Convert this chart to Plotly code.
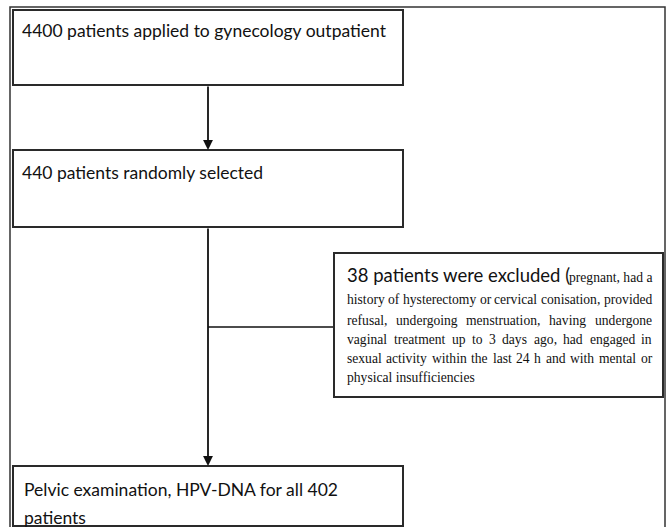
import plotly.graph_objects as go

# ---- data (flowchart content) ----
counts = [4400, 440, 38, 402]
step_labels = [
    "patients applied to gynecology outpatient",
    "patients randomly selected",
    "patients were excluded (",
    "Pelvic examination, HPV-DNA for all",
]
excl_first = "pregnant, had a"
excl_lines = [
    "history of hysterectomy or cervical conisation, provided",
    "refusal, undergoing menstruation, having undergone",
    "vaginal treatment up to 3 days ago, had engaged in",
    "sexual activity within the last 24 h and with mental or",
    "physical insufficiencies",
]
last_line = "patients"

# ---- geometry / style ----
W, H = 668, 527
SANS = "Lato"
SERIF = "Liberation Serif"
BOX = "#2a2a2a"

# Times metrics (per 1000 em) for justification
TM = dict(a=444, b=500, c=444, d=500, e=444, f=333, g=500, h=500, i=278, j=278,
          k=500, l=278, m=778, n=500, o=500, p=500, q=500, r=333, s=389, t=278,
          u=500, v=500, w=722, x=500, y=500, z=444)
TM.update({" ": 250, ",": 250, ".": 250, "(": 333, ")": 333, "-": 333})
for dch in "0123456789":
    TM[dch] = 500


def tw(s, fs):
    return sum(TM.get(c, 500) for c in s) * fs / 1000.0


fig = go.Figure()
shapes = []
ann = []


def rect(x0, y0, x1, y1, color=BOX, width=2):
    shapes.append(dict(type="rect", xref="x", yref="y", x0=x0, y0=y0, x1=x1, y1=y1,
                       line=dict(color=color, width=width), fillcolor="rgba(0,0,0,0)"))


def line(x0, y0, x1, y1, color="#111", width=2):
    shapes.append(dict(type="line", xref="x", yref="y", x0=x0, y0=y0, x1=x1, y1=y1,
                       line=dict(color=color, width=width)))


def text(x, y, s, size, family, anchor="left", color="#111"):
    ann.append(dict(x=x, y=y, xref="x", yref="y", text=s, showarrow=False,
                    xanchor=anchor, yanchor="middle", borderpad=0, borderwidth=0,
                    font=dict(size=size, family=family, color=color)))


def arrow(x, y0, y1):
    ann.append(dict(x=x, y=y1, ax=x, ay=y0, xref="x", yref="y", axref="x", ayref="y",
                    text="", showarrow=True, arrowhead=2, arrowsize=1.1,
                    arrowwidth=1.8, arrowcolor="#111", standoff=0, startstandoff=0))


# outer frame
rect(10, 7, 665, 560, color="#333", width=1.5)
# box 1
rect(13, 10, 403, 85)
text(22, 30, f"{counts[0]} {step_labels[0]}", 17.5, SANS)
# arrow 1
arrow(208, 85, 150)
# box 2
rect(13, 150, 403, 227)
text(22, 172, f"{counts[1]} {step_labels[1]}", 17.5, SANS)
# main line + arrow 2
arrow(208, 227, 466)
# branch line to exclusion box
line(208, 327, 334, 327, width=1.5)
# exclusion box
rect(334, 253, 663, 397)
L, R = 347, 652
fs = 13.6
text(L, 275, f"{counts[2]} {step_labels[2]}", 18.5, SANS)
text(R, 277, excl_first, fs, SERIF, anchor="right")
ys = [299, 320, 339, 358, 377]
for k, (ln, yy) in enumerate(zip(excl_lines, ys)):
    words = ln.split()
    if k == len(excl_lines) - 1 or len(words) < 2:
        text(L, yy, ln, fs, SERIF)
        continue
    total = sum(tw(wd, fs) for wd in words)
    gap = (R - L - total) / (len(words) - 1)
    xx = L
    for wd in words:
        text(xx, yy, wd, fs, SERIF)
        xx += tw(wd, fs) + gap

# bottom box
rect(13, 466, 403, 526)
text(24, 489, f"{step_labels[3]} {counts[3]}", 17.5, SANS)
text(24, 517, last_line, 17.5, SANS)

fig.update_layout(
    width=W, height=H, margin=dict(l=0, r=0, t=0, b=0),
    paper_bgcolor="white", plot_bgcolor="white",
    xaxis=dict(range=[0, W], visible=False, fixedrange=True),
    yaxis=dict(range=[H, 0], visible=False, fixedrange=True),
    shapes=shapes, annotations=ann, showlegend=False,
)
fig.write_html(
    "out.html",
    config={"displayModeBar": False},
    post_script="document.body.style.margin='0';document.body.style.padding='0';document.body.style.overflow='hidden';",
)
